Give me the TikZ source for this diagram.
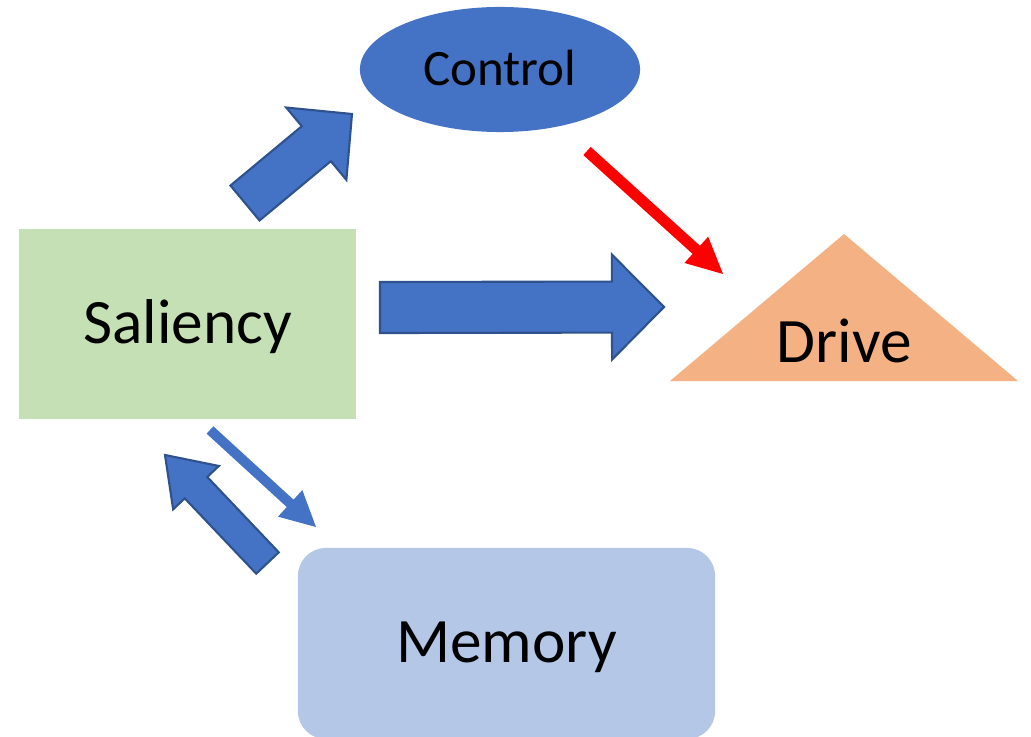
\documentclass[tikz,border=0pt]{standalone}
\usepackage{fontspec}
\setmainfont{Carlito}
\usepackage{tikz}
\usetikzlibrary{calc,shapes.geometric}
\definecolor{FlowBlue}{RGB}{68,114,196}
\definecolor{FlowBlueEdge}{RGB}{47,82,143}
\definecolor{FlowGreen}{RGB}{197,224,180}
\definecolor{FlowOrange}{RGB}{244,177,131}
\definecolor{FlowLight}{RGB}{180,199,231}
% block arrow: [style]{from}{to}{shaft half width}{head half width}{head length}
\newcommand{\blockarrow}[6][]{%
  \coordinate (ba-b) at ($(#3)!#6!(#2)$);
  \path[#1] ($(#2)!#4!90:(#3)$) -- ($(ba-b)!#4!90:(#3)$) -- ($(ba-b)!#5!90:(#3)$) -- (#3)
    -- ($(ba-b)!#5!-90:(#3)$) -- ($(ba-b)!#4!-90:(#3)$) -- ($(#2)!#4!-90:(#3)$) -- cycle;}

\begin{document}
\begin{tikzpicture}[x=0.01cm,y=-0.01cm,
  lbl/.style={font=\fontsize{18}{20}\selectfont,text height=0.5cm,text depth=0.12cm,inner sep=0pt},
  blk/.style={fill=FlowBlue,draw=FlowBlueEdge,line width=0.6pt,line join=miter},
  thin/.style={fill=FlowBlue},
  hot/.style={fill=red}]
\useasboundingbox (0,0) rectangle (1031,737);

\node[lbl,rectangle,fill=FlowGreen,minimum width=3.37cm,minimum height=1.9cm] (sal) at (187.5,324) {Saliency};
\node[ellipse,fill=FlowBlue,inner sep=0pt,minimum width=2.8cm,minimum height=1.25cm,
  font=\fontsize{14.5}{16}\selectfont,text height=0.42cm,text depth=0.11cm] (ctl) at (500,69.5) {Control};
\node[lbl,rectangle,rounded corners=0.28cm,fill=FlowLight,minimum width=4.17cm,minimum height=1.91cm,text depth=0.13cm] (mem) at (506.5,643.5) {Memory};

% drive triangle
\coordinate (drA) at (844,234);
\coordinate (drL) at (670,381);
\coordinate (drR) at (1018,381);
\fill[FlowOrange] (drA) -- (drR) -- (drL) -- cycle;
\node[font=\fontsize{18}{20}\selectfont,inner sep=0pt,anchor=base] (drv) at (844,363) {Drive};

% arrow ends
\coordinate (a0) at (380,307.5);  \coordinate (a1) at (664,307);
\coordinate (b0) at (245,203);    \coordinate (b1) at (352,114);
\coordinate (c0) at (267.5,563);  \coordinate (c1) at (165,455);
\coordinate (d0) at (210,430);    \coordinate (d1) at (316,527);
\coordinate (e0) at (587,151);    \coordinate (e1) at (723,274);

\blockarrow[blk]{a0}{a1}{0.255cm}{0.525cm}{0.52cm}
\blockarrow[blk]{b0}{b1}{0.227cm}{0.47cm}{0.464cm}
\blockarrow[blk]{c0}{c1}{0.155cm}{0.315cm}{0.45cm}
\blockarrow[thin]{d0}{d1}{0.05cm}{0.18cm}{0.35cm}
\blockarrow[hot]{e0}{e1}{0.055cm}{0.177cm}{0.36cm}
\end{tikzpicture}
\end{document}
